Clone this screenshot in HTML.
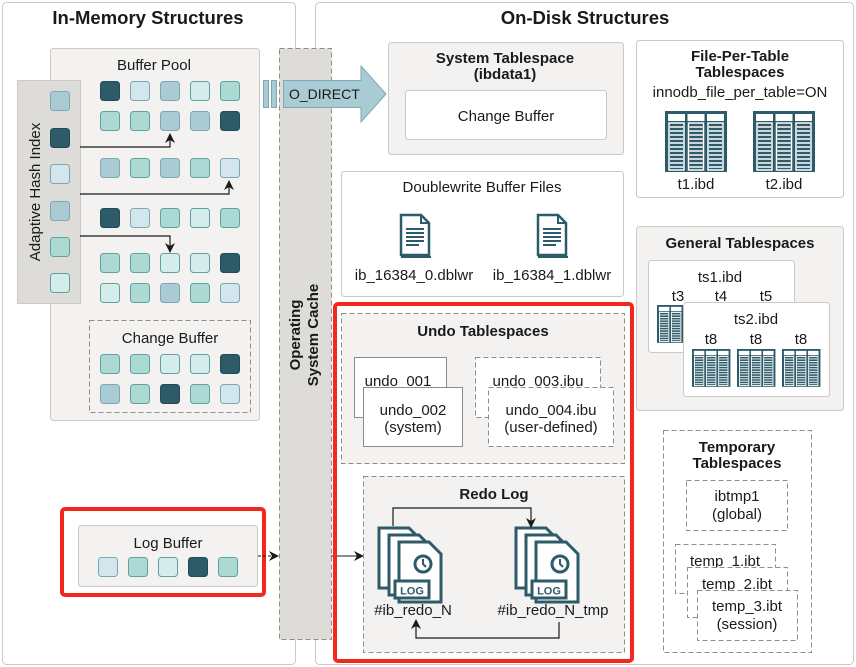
<!DOCTYPE html>
<html><head><meta charset="utf-8"><style>
html,body{margin:0;padding:0;background:#fff;}
svg{display:block;}
text{font-family:"Liberation Sans",sans-serif;fill:#1a1a1a;}
.b{font-weight:bold;}
</style></head><body>
<svg width="856" height="667" viewBox="0 0 856 667" xmlns="http://www.w3.org/2000/svg">
<defs>
<marker id="ah" markerWidth="10" markerHeight="10" refX="9" refY="5" orient="auto" markerUnits="userSpaceOnUse">
<path d="M0,0 L10,5 L0,10 L3,5 z" fill="#1a1a1a"/></marker>
<g id="tbl">
<rect x="0" y="0" width="62" height="61" fill="#2d5b69"/>
<rect x="3" y="3" width="17" height="7" fill="#fff"/><rect x="22.5" y="3" width="17" height="7" fill="#fff"/><rect x="42" y="3" width="17" height="7" fill="#fff"/>
<rect x="4" y="12" width="15" height="47" fill="none" stroke="#fff" stroke-width="1.5"/>
<rect x="23.5" y="12" width="15" height="47" fill="none" stroke="#fff" stroke-width="1.5"/>
<rect x="43" y="12" width="15" height="47" fill="none" stroke="#fff" stroke-width="1.5"/>
<path d="M5,16H18M5,20H18M5,24H18M5,28H18M5,32H18M5,36H18M5,40H18M5,44H18M5,48H18M5,52H18M5,56H18
M24.5,16H37.5M24.5,20H37.5M24.5,24H37.5M24.5,28H37.5M24.5,32H37.5M24.5,36H37.5M24.5,40H37.5M24.5,44H37.5M24.5,48H37.5M24.5,52H37.5M24.5,56H37.5
M44,16H57M44,20H57M44,24H57M44,28H57M44,32H57M44,36H57M44,40H57M44,44H57M44,48H57M44,52H57M44,56H57" stroke="#fff" stroke-width="1.4"/>
</g>
<g id="doc">
<path d="M2,2 H22 L30,10 V42 H2 Z" fill="#fff" stroke="#2d5b69" stroke-width="2.5"/>
<path d="M22,2 V10 H30" fill="none" stroke="#2d5b69" stroke-width="2"/>
<path d="M7,16H25M7,20H25M7,24H25M7,28H25M7,32H20" stroke="#2d5b69" stroke-width="2"/>
<path d="M2,44 H32" stroke="#2d5b69" stroke-width="2"/>
</g>
<g id="pg">
<path d="M0,0 H30 L42,12 V60 H0 Z" fill="#fff" stroke="#2d5b69" stroke-width="3"/>
</g>
<g id="logic">
<use href="#pg" x="0" y="0"/>
<use href="#pg" x="10" y="7"/>
<use href="#pg" x="20" y="14"/>
<circle cx="44" cy="36" r="8" fill="none" stroke="#2d5b69" stroke-width="3"/>
<path d="M44,31 V36 L47,39" stroke="#2d5b69" stroke-width="2" fill="none"/>
<rect x="16" y="53" width="34" height="17" fill="#fff" stroke="#2d5b69" stroke-width="3"/>
<text x="33" y="66.5" font-size="11" text-anchor="middle" class="b" style="fill:#2d5b69">LOG</text>
</g>
</defs>

<rect x="2.5" y="2.5" width="293" height="662" rx="4" fill="#fff" stroke="#ccc8c4"/>
<rect x="315.5" y="2.5" width="538" height="662" rx="4" fill="#fff" stroke="#ccc8c4"/>
<text x="148" y="24" font-size="18.5" text-anchor="middle" class="b">In-Memory Structures</text>
<text x="585" y="24" font-size="18.5" text-anchor="middle" class="b">On-Disk Structures</text>

<rect x="279.5" y="48.5" width="52" height="591" fill="#dedcd8" stroke="#8f8c88" stroke-dasharray="5,3"/>
<text transform="translate(300,335) rotate(-90)" font-size="15" text-anchor="middle" class="b">Operating</text>
<text transform="translate(318,335) rotate(-90)" font-size="15" text-anchor="middle" class="b">System Cache</text>

<rect x="50.5" y="48.5" width="209" height="372" rx="3" fill="#f3f2f1" stroke="#ccc8c4"/>
<text x="154" y="70" font-size="15" text-anchor="middle">Buffer Pool</text>
<rect x="17.5" y="80.5" width="63" height="223" fill="#dedcd8" stroke="#ccc8c4"/>
<text transform="translate(40,192) rotate(-90)" font-size="15" text-anchor="middle">Adaptive Hash Index</text>

<g stroke-width="1">
<rect x="50.5" y="91.5" width="19" height="19" rx="3" fill="#aacbd3" stroke="#7aa9b3"/>
<rect x="50.5" y="128.5" width="19" height="19" rx="3" fill="#2d5b69" stroke="#244a55"/>
<rect x="50.5" y="164.5" width="19" height="19" rx="3" fill="#d3e6ee" stroke="#7aa9b3"/>
<rect x="50.5" y="201.5" width="19" height="19" rx="3" fill="#aacbd3" stroke="#7aa9b3"/>
<rect x="50.5" y="237.5" width="19" height="19" rx="3" fill="#acd9d3" stroke="#5fa49c"/>
<rect x="50.5" y="273.5" width="19" height="19" rx="3" fill="#d4ecec" stroke="#5fa49c"/>
</g>

<g>
<rect x="100.5" y="81.5" width="19" height="19" rx="3" fill="#2d5b69" stroke="#244a55"/>
<rect x="130.5" y="81.5" width="19" height="19" rx="3" fill="#d3e6ee" stroke="#7aa9b3"/>
<rect x="160.5" y="81.5" width="19" height="19" rx="3" fill="#aacbd3" stroke="#7aa9b3"/>
<rect x="190.5" y="81.5" width="19" height="19" rx="3" fill="#d4ecec" stroke="#5fa49c"/>
<rect x="220.5" y="81.5" width="19" height="19" rx="3" fill="#acd9d3" stroke="#5fa49c"/>
<rect x="100.5" y="111.5" width="19" height="19" rx="3" fill="#acd9d3" stroke="#5fa49c"/>
<rect x="130.5" y="111.5" width="19" height="19" rx="3" fill="#acd9d3" stroke="#5fa49c"/>
<rect x="160.5" y="111.5" width="19" height="19" rx="3" fill="#aacbd3" stroke="#7aa9b3"/>
<rect x="190.5" y="111.5" width="19" height="19" rx="3" fill="#aacbd3" stroke="#7aa9b3"/>
<rect x="220.5" y="111.5" width="19" height="19" rx="3" fill="#2d5b69" stroke="#244a55"/>
<rect x="100.5" y="158.5" width="19" height="19" rx="3" fill="#aacbd3" stroke="#7aa9b3"/>
<rect x="130.5" y="158.5" width="19" height="19" rx="3" fill="#acd9d3" stroke="#5fa49c"/>
<rect x="160.5" y="158.5" width="19" height="19" rx="3" fill="#aacbd3" stroke="#7aa9b3"/>
<rect x="190.5" y="158.5" width="19" height="19" rx="3" fill="#acd9d3" stroke="#5fa49c"/>
<rect x="220.5" y="158.5" width="19" height="19" rx="3" fill="#d3e6ee" stroke="#7aa9b3"/>
<rect x="100.5" y="208.5" width="19" height="19" rx="3" fill="#2d5b69" stroke="#244a55"/>
<rect x="130.5" y="208.5" width="19" height="19" rx="3" fill="#d3e6ee" stroke="#7aa9b3"/>
<rect x="160.5" y="208.5" width="19" height="19" rx="3" fill="#acd9d3" stroke="#5fa49c"/>
<rect x="190.5" y="208.5" width="19" height="19" rx="3" fill="#d4ecec" stroke="#5fa49c"/>
<rect x="220.5" y="208.5" width="19" height="19" rx="3" fill="#acd9d3" stroke="#5fa49c"/>
<rect x="100.5" y="253.5" width="19" height="19" rx="3" fill="#acd9d3" stroke="#5fa49c"/>
<rect x="130.5" y="253.5" width="19" height="19" rx="3" fill="#acd9d3" stroke="#5fa49c"/>
<rect x="160.5" y="253.5" width="19" height="19" rx="3" fill="#d4ecec" stroke="#5fa49c"/>
<rect x="190.5" y="253.5" width="19" height="19" rx="3" fill="#d4ecec" stroke="#5fa49c"/>
<rect x="220.5" y="253.5" width="19" height="19" rx="3" fill="#2d5b69" stroke="#244a55"/>
<rect x="100.5" y="283.5" width="19" height="19" rx="3" fill="#d4ecec" stroke="#5fa49c"/>
<rect x="130.5" y="283.5" width="19" height="19" rx="3" fill="#acd9d3" stroke="#5fa49c"/>
<rect x="160.5" y="283.5" width="19" height="19" rx="3" fill="#aacbd3" stroke="#7aa9b3"/>
<rect x="190.5" y="283.5" width="19" height="19" rx="3" fill="#acd9d3" stroke="#5fa49c"/>
<rect x="220.5" y="283.5" width="19" height="19" rx="3" fill="#d3e6ee" stroke="#7aa9b3"/>
</g>
<g fill="none" stroke="#1a1a1a" stroke-width="1.2">
<path d="M80,147 H170 V134" marker-end="url(#ah)"/>
<path d="M80,194 H229 V181" marker-end="url(#ah)"/>
<path d="M80,236 H170 V252" marker-end="url(#ah)"/>
</g>

<rect x="89.5" y="320.5" width="161" height="92" fill="none" stroke="#8f8c88" stroke-dasharray="5,3"/>
<text x="170" y="343" font-size="15" text-anchor="middle">Change Buffer</text>
<rect x="100.5" y="354.5" width="19" height="19" rx="3" fill="#acd9d3" stroke="#5fa49c"/>
<rect x="130.5" y="354.5" width="19" height="19" rx="3" fill="#acd9d3" stroke="#5fa49c"/>
<rect x="160.5" y="354.5" width="19" height="19" rx="3" fill="#d4ecec" stroke="#5fa49c"/>
<rect x="190.5" y="354.5" width="19" height="19" rx="3" fill="#d4ecec" stroke="#5fa49c"/>
<rect x="220.5" y="354.5" width="19" height="19" rx="3" fill="#2d5b69" stroke="#244a55"/>
<rect x="100.5" y="384.5" width="19" height="19" rx="3" fill="#aacbd3" stroke="#7aa9b3"/>
<rect x="130.5" y="384.5" width="19" height="19" rx="3" fill="#acd9d3" stroke="#5fa49c"/>
<rect x="160.5" y="384.5" width="19" height="19" rx="3" fill="#2d5b69" stroke="#244a55"/>
<rect x="190.5" y="384.5" width="19" height="19" rx="3" fill="#acd9d3" stroke="#5fa49c"/>
<rect x="220.5" y="384.5" width="19" height="19" rx="3" fill="#d3e6ee" stroke="#7aa9b3"/>

<rect x="62" y="509" width="202" height="86" rx="3" fill="none" stroke="#f2281c" stroke-width="4"/>
<rect x="78.5" y="525.5" width="179" height="61" rx="3" fill="#f3f2f1" stroke="#ccc8c4"/>
<text x="168" y="548" font-size="15" text-anchor="middle">Log Buffer</text>
<rect x="98.5" y="557.5" width="19" height="19" rx="3" fill="#d3e6ee" stroke="#7aa9b3"/>
<rect x="128.5" y="557.5" width="19" height="19" rx="3" fill="#acd9d3" stroke="#5fa49c"/>
<rect x="158.5" y="557.5" width="19" height="19" rx="3" fill="#d4ecec" stroke="#5fa49c"/>
<rect x="188.5" y="557.5" width="19" height="19" rx="3" fill="#2d5b69" stroke="#244a55"/>
<rect x="218.5" y="557.5" width="19" height="19" rx="3" fill="#acd9d3" stroke="#5fa49c"/>
<path d="M258,556 H278" stroke="#1a1a1a" stroke-dasharray="3,2" marker-end="url(#ah)"/>
<path d="M331,556 H363" stroke="#1a1a1a" marker-end="url(#ah)"/>

<rect x="263.5" y="80.5" width="5" height="27" fill="#a9cbd3" stroke="#7aa9b3"/>
<rect x="271.5" y="80.5" width="5" height="27" fill="#a9cbd3" stroke="#7aa9b3"/>
<path d="M283.5,80.5 H361 V66 L386,94 L361,122 V107.5 H283.5 Z" fill="#a9cbd3" stroke="#7aa9b3"/>
<text x="289" y="99" font-size="14">O_DIRECT</text>

<rect x="388.5" y="42.5" width="235" height="112" rx="3" fill="#f3f2f1" stroke="#ccc8c4"/>
<text x="505" y="63" font-size="15" text-anchor="middle" class="b">System Tablespace</text>
<text x="505" y="79" font-size="15" text-anchor="middle" class="b">(ibdata1)</text>
<rect x="405.5" y="90.5" width="201" height="49" rx="3" fill="#fff" stroke="#ccc8c4"/>
<text x="506" y="121" font-size="15" text-anchor="middle">Change Buffer</text>

<rect x="341.5" y="171.5" width="282" height="125" rx="3" fill="#fff" stroke="#ccc8c4"/>
<text x="482" y="192" font-size="15" text-anchor="middle">Doublewrite Buffer Files</text>
<use href="#doc" x="399" y="213"/>
<use href="#doc" x="536" y="213"/>
<text x="414" y="280" font-size="15" text-anchor="middle">ib_16384_0.dblwr</text>
<text x="552" y="280" font-size="15" text-anchor="middle">ib_16384_1.dblwr</text>

<rect x="636.5" y="40.5" width="207" height="157" rx="3" fill="#fff" stroke="#ccc8c4"/>
<text x="740" y="61" font-size="15" text-anchor="middle" class="b">File-Per-Table</text>
<text x="740" y="77" font-size="15" text-anchor="middle" class="b">Tablespaces</text>
<text x="740" y="97" font-size="15" text-anchor="middle">innodb_file_per_table=ON</text>
<use href="#tbl" x="665" y="111"/>
<use href="#tbl" x="753" y="111"/>
<text x="696" y="189" font-size="15" text-anchor="middle">t1.ibd</text>
<text x="784" y="189" font-size="15" text-anchor="middle">t2.ibd</text>

<rect x="636.5" y="226.5" width="207" height="184" rx="3" fill="#f3f2f1" stroke="#ccc8c4"/>
<text x="740" y="248" font-size="15" text-anchor="middle" class="b">General Tablespaces</text>
<rect x="648.5" y="260.5" width="146" height="92" rx="3" fill="#fff" stroke="#ccc8c4"/>
<text x="720" y="282" font-size="15" text-anchor="middle">ts1.ibd</text>
<text x="678" y="301" font-size="15" text-anchor="middle">t3</text>
<text x="721" y="301" font-size="15" text-anchor="middle">t4</text>
<text x="766" y="301" font-size="15" text-anchor="middle">t5</text>
<use href="#tbl" transform="translate(657,305) scale(0.62)"/>
<rect x="683.5" y="302.5" width="146" height="94" rx="3" fill="#fff" stroke="#ccc8c4"/>
<text x="756" y="324" font-size="15" text-anchor="middle">ts2.ibd</text>
<text x="711" y="344" font-size="15" text-anchor="middle">t8</text>
<text x="756" y="344" font-size="15" text-anchor="middle">t8</text>
<text x="801" y="344" font-size="15" text-anchor="middle">t8</text>
<use href="#tbl" transform="translate(692,349) scale(0.62)"/>
<use href="#tbl" transform="translate(737,349) scale(0.62)"/>
<use href="#tbl" transform="translate(782,349) scale(0.62)"/>

<rect x="663.5" y="430.5" width="148" height="222" fill="#fff" stroke="#8f8c88" stroke-dasharray="5,3"/>
<text x="737" y="452" font-size="15" text-anchor="middle" class="b">Temporary</text>
<text x="737" y="468" font-size="15" text-anchor="middle" class="b">Tablespaces</text>
<rect x="686.5" y="480.5" width="101" height="50" fill="#fff" stroke="#8f8c88" stroke-dasharray="5,3"/>
<text x="737" y="501" font-size="15" text-anchor="middle">ibtmp1</text>
<text x="737" y="519" font-size="15" text-anchor="middle">(global)</text>
<rect x="675.5" y="544.5" width="100" height="49" fill="#fff" stroke="#8f8c88" stroke-dasharray="5,3"/>
<text x="725" y="566" font-size="15" text-anchor="middle">temp_1.ibt</text>
<rect x="687.5" y="567.5" width="100" height="50" fill="#fff" stroke="#8f8c88" stroke-dasharray="5,3"/>
<text x="737" y="589" font-size="15" text-anchor="middle">temp_2.ibt</text>
<rect x="697.5" y="590.5" width="100" height="50" fill="#fff" stroke="#8f8c88" stroke-dasharray="5,3"/>
<text x="747" y="611" font-size="15" text-anchor="middle">temp_3.ibt</text>
<text x="747" y="629" font-size="15" text-anchor="middle">(session)</text>

<rect x="335" y="304" width="297" height="357" rx="3" fill="none" stroke="#f2281c" stroke-width="4"/>
<rect x="341.5" y="313.5" width="283" height="150" fill="#f3f2f1" stroke="#8f8c88" stroke-dasharray="5,3"/>
<text x="483" y="336" font-size="15" text-anchor="middle" class="b">Undo Tablespaces</text>
<rect x="354.5" y="357.5" width="92" height="60" fill="#fff" stroke="#8f8c88"/>
<text x="398" y="386" font-size="15" text-anchor="middle">undo_001</text>
<rect x="363.5" y="387.5" width="99" height="59" fill="#fff" stroke="#8f8c88"/>
<text x="413" y="415" font-size="15" text-anchor="middle">undo_002</text>
<text x="413" y="432" font-size="15" text-anchor="middle">(system)</text>
<rect x="475.5" y="357.5" width="125" height="60" fill="#fff" stroke="#8f8c88" stroke-dasharray="5,3"/>
<text x="538" y="386" font-size="15" text-anchor="middle">undo_003.ibu</text>
<rect x="488.5" y="387.5" width="125" height="59" fill="#fff" stroke="#8f8c88" stroke-dasharray="5,3"/>
<text x="551" y="415" font-size="15" text-anchor="middle">undo_004.ibu</text>
<text x="551" y="432" font-size="15" text-anchor="middle">(user-defined)</text>

<rect x="363.5" y="476.5" width="261" height="176" fill="#f3f2f1" stroke="#8f8c88" stroke-dasharray="5,3"/>
<text x="494" y="499" font-size="15" text-anchor="middle" class="b">Redo Log</text>
<use href="#logic" x="379" y="528"/>
<use href="#logic" x="516" y="528"/>
<text x="413" y="615" font-size="15" text-anchor="middle">#ib_redo_N</text>
<text x="553" y="615" font-size="15" text-anchor="middle">#ib_redo_N_tmp</text>
<g fill="none" stroke="#1a1a1a" stroke-width="1.2">
<path d="M393,526 V508 H531 V527" marker-end="url(#ah)"/>
<path d="M559,622 V638 H416 V620" marker-end="url(#ah)"/>
</g>
</svg>
</body></html>
